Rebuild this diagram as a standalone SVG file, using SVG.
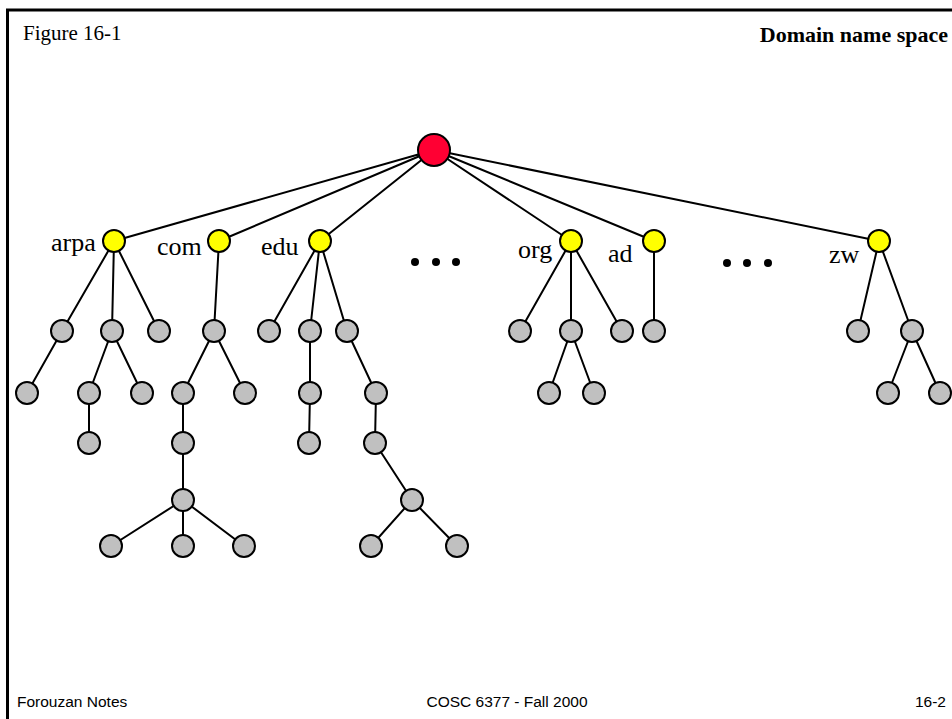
<svg xmlns="http://www.w3.org/2000/svg" width="952" height="719" viewBox="0 0 952 719">
<style>
.e{stroke:#000;stroke-width:2;fill:none}
.g{fill:#C0C0C0;stroke:#000;stroke-width:2}
.y{fill:#FFFF00;stroke:#000;stroke-width:2}
.r{fill:#FF0033;stroke:#000;stroke-width:2}
.lbl{font-family:"Liberation Serif","Times New Roman",serif;font-size:26px;fill:#000}
.ft{font-family:"Liberation Sans",Arial,sans-serif;font-size:15.5px;fill:#000}
.dot{fill:#000}
</style>
<rect width="952" height="719" fill="#fff"/>
<g id="frame">
<path d="M7.5 719V10H952" stroke="#000" stroke-width="3" fill="none"/>
</g>
<g id="header">
<text x="23" y="40" font-family="'Liberation Serif','Times New Roman',serif" font-size="21">Figure 16-1</text>
<text x="948" y="42" text-anchor="end" font-family="'Liberation Serif','Times New Roman',serif" font-size="22" font-weight="bold">Domain name space</text>
</g>
<g id="connectors">
<path class="e" d="M434 150L114 241M434 150L219 241M434 150L320 241M434 150L571 241M434 150L654 241M434 150L879 241"/>
<path class="e" d="M114 241L62 331M114 241L112 331M114 241L159 331M62 331L27 393M112 331L89 393M112 331L142 393M89 393L89 443"/>
<path class="e" d="M219 241L214 331M214 331L183 393M214 331L245 393M183 393L183 500M183 500L111 546M183 500L183 546M183 500L244 546"/>
<path class="e" d="M320 241L269 331M320 241L310 331M320 241L347 331M310 331L310 393L309 443M347 331L376 393L375 443L412 500M412 500L371 546M412 500L457 546"/>
<path class="e" d="M571 241L520 331M571 241L571 331M571 241L622 331M571 331L549 393M571 331L594 393M654 241L654 331"/>
<path class="e" d="M879 241L858 331M879 241L912 331M912 331L888 393M912 331L940 393"/>
</g>
<g id="root"><circle class="r" cx="434" cy="150" r="16"/></g>
<g id="arpa"><circle class="y" cx="114" cy="241" r="11"/><text class="lbl" x="51" y="251">arpa</text></g>
<g id="com"><circle class="y" cx="219" cy="241" r="11"/><text class="lbl" x="157" y="255">com</text></g>
<g id="edu"><circle class="y" cx="320" cy="241" r="11"/><text class="lbl" x="261" y="255">edu</text></g>
<g id="org"><circle class="y" cx="571" cy="241" r="11"/><text class="lbl" x="518" y="258">org</text></g>
<g id="ad"><circle class="y" cx="654" cy="241" r="11"/><text class="lbl" x="608" y="262">ad</text></g>
<g id="zw"><circle class="y" cx="879" cy="241" r="11"/><text class="lbl" x="829" y="263">zw</text></g>
<g id="ellipsis1"><circle class="dot" cx="415" cy="262" r="4"/><circle class="dot" cx="436" cy="262" r="4"/><circle class="dot" cx="456" cy="262" r="4"/></g>
<g id="ellipsis2"><circle class="dot" cx="727" cy="263" r="4"/><circle class="dot" cx="747" cy="263" r="4"/><circle class="dot" cx="768" cy="263" r="4"/></g>
<g id="arpa-sub">
<circle class="g" cx="62" cy="331" r="11"/><circle class="g" cx="112" cy="331" r="11"/><circle class="g" cx="159" cy="331" r="11"/>
<circle class="g" cx="27" cy="393" r="11"/><circle class="g" cx="89" cy="393" r="11"/><circle class="g" cx="142" cy="393" r="11"/>
<circle class="g" cx="89" cy="443" r="11"/>
</g>
<g id="com-sub">
<circle class="g" cx="214" cy="331" r="11"/><circle class="g" cx="183" cy="393" r="11"/><circle class="g" cx="245" cy="393" r="11"/>
<circle class="g" cx="183" cy="443" r="11"/><circle class="g" cx="183" cy="500" r="11"/>
<circle class="g" cx="111" cy="546" r="11"/><circle class="g" cx="183" cy="546" r="11"/><circle class="g" cx="244" cy="546" r="11"/>
</g>
<g id="edu-sub">
<circle class="g" cx="269" cy="331" r="11"/><circle class="g" cx="310" cy="331" r="11"/><circle class="g" cx="347" cy="331" r="11"/>
<circle class="g" cx="310" cy="393" r="11"/><circle class="g" cx="376" cy="393" r="11"/>
<circle class="g" cx="309" cy="443" r="11"/><circle class="g" cx="375" cy="443" r="11"/>
<circle class="g" cx="412" cy="500" r="11"/>
<circle class="g" cx="371" cy="546" r="11"/><circle class="g" cx="457" cy="546" r="11"/>
</g>
<g id="org-sub">
<circle class="g" cx="520" cy="331" r="11"/><circle class="g" cx="571" cy="331" r="11"/><circle class="g" cx="622" cy="331" r="11"/>
<circle class="g" cx="549" cy="393" r="11"/><circle class="g" cx="594" cy="393" r="11"/>
</g>
<g id="ad-sub"><circle class="g" cx="654" cy="331" r="11"/></g>
<g id="zw-sub">
<circle class="g" cx="858" cy="331" r="11"/><circle class="g" cx="912" cy="331" r="11"/>
<circle class="g" cx="888" cy="393" r="11"/><circle class="g" cx="940" cy="393" r="11"/>
</g>
<g id="footer">
<text class="ft" x="17" y="707">Forouzan Notes</text>
<text class="ft" x="507" y="707" text-anchor="middle">COSC 6377 - Fall 2000</text>
<text class="ft" x="946" y="707" text-anchor="end">16-2</text>
</g>
</svg>
